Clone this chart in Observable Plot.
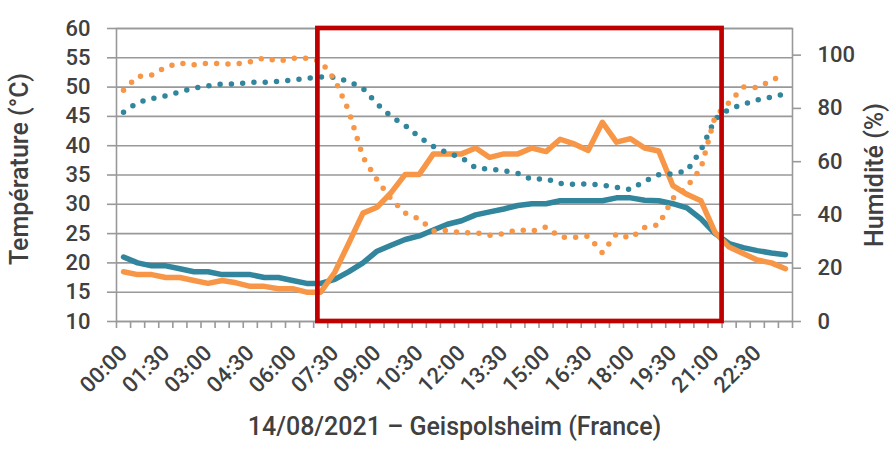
<!DOCTYPE html>
<html><head><meta charset="utf-8">
<script src="https://cdn.jsdelivr.net/npm/d3@7"></script>
<script src="https://cdn.jsdelivr.net/npm/@observablehq/plot@0.6"></script>
<style>body{margin:0;background:#fff;}</style>
</head><body><div id="chart"></div>
<script>
const times = ["00:00","00:30","01:00","01:30","02:00","02:30","03:00","03:30","04:00","04:30","05:00","05:30",
  "06:00","06:30","07:00","07:30","08:00","08:30","09:00","09:30","10:00","10:30","11:00","11:30",
  "12:00","12:30","13:00","13:30","14:00","14:30","15:00","15:30","16:00","16:30","17:00","17:30",
  "18:00","18:30","19:00","19:30","20:00","20:30","21:00","21:30","22:00","22:30","23:00","23:30"];
const tempTeal = [21,20,19.5,19.5,19,18.5,18.5,18,18,18,17.5,17.5,17,16.5,16.5,17.2,18.5,20,22,23,24,24.6,25.6,26.6,
  27.2,28.2,28.7,29.2,29.8,30.1,30.1,30.6,30.6,30.6,30.6,31.1,31.1,30.7,30.6,30.1,29.4,27.5,25,23.3,22.6,22.1,21.7,21.4];
const tempOrange = [18.5,18,18,17.5,17.5,17,16.5,17,16.6,16,16,15.6,15.6,15,15,18.4,23.4,28.5,29.5,32,35.1,35.1,38.6,38.6,
  38.6,39.6,38,38.6,38.6,39.6,39,41.1,40.3,39.2,44,40.6,41.2,39.6,39.1,33.2,31.7,30.6,25.2,22.7,21.6,20.5,20,19];
const humTeal = [78.6,82.2,83.7,84.7,86.2,87.6,88.5,89.2,89.2,89.8,89.8,90.1,90.7,91.3,91.8,91.7,90.1,87.5,81.7,77,73.6,69.2,65.7,63.3,
  61.5,57.7,57.2,56.6,55.6,53.3,53.6,51.8,51.5,51.7,51.2,50.4,49.5,52.7,55.1,55.5,56.5,64.3,76,79.7,81.5,83.2,84.2,85.5];
const humOrange = [86.8,92,92.5,95.5,97,96.4,97,96.7,96.7,97.5,99,97.7,98.8,98.8,97.7,90.8,79,61.7,53.2,46,40.7,38.5,34,34.2,
  33.2,33.4,32.4,33,34.5,33.9,35.5,31.6,31.6,32,25.8,32.9,31.3,35.3,36.3,46.2,50.5,57.5,77,82.2,88,87.8,90.5,93];
const tempTicks = [10,15,20,25,30,35,40,45,50,55,60];
const humTicks = [0,20,40,60,80,100];
const humMax = 110;
const xTickLabels = ["00:00","01:30","03:00","04:30","06:00","07:30","09:00","10:30","12:00","13:30","15:00","16:30","18:00","19:30","21:00","22:30"];
const highlight = [{from: 14.3, to: 43}]; // in half-hour slots
const titleX = "14/08/2021 – Geispolsheim (France)";
const titleYLeft = "Température (°C)";
const titleYRight = "Humidité (%)";

const teal = "#31859C", orange = "#F79646", red = "#C00000", gray = "#999999", textCol = "#404040";
const tMin = tempTicks[0], tMax = tempTicks[tempTicks.length - 1];
const h2y = h => tMin + h * (tMax - tMin) / humMax;
const y2h = y => (y - tMin) * humMax / (tMax - tMin);

const rows = times.map((t, i) => ({slot: i + 0.5, time: t, tT: tempTeal[i], tO: tempOrange[i], hT: h2y(humTeal[i]), hO: h2y(humOrange[i])}));
const bounds = times.map((t, i) => i).concat([times.length]);
const labelRows = xTickLabels.map(l => ({slot: times.indexOf(l) + 0.5, label: l}));
const rectRows = highlight.map(d => ({...d, low: tMin, high: tMax}));

const chart = Plot.plot({
  width: 890, height: 450,
  marginLeft: 116, marginRight: 98, marginTop: 28, marginBottom: 129,
  x: {type: "linear", domain: [0, times.length], axis: null},
  y: {domain: [tMin, tMax], axis: null},
  style: {fontFamily: "Roboto, 'Noto Sans', sans-serif", fontSize: "22px", fontWeight: 500, color: textCol, background: "white"},
  marks: [
    Plot.ruleY(tempTicks, {stroke: gray, strokeWidth: 1.6}),
    Plot.frame({stroke: gray, strokeWidth: 1.6}),
    Plot.axisX({ticks: bounds, tickSize: 7, tickFormat: () => "", label: null, stroke: gray, strokeWidth: 1.6}),
    Plot.axisY({anchor: "left", ticks: tempTicks, tickSize: 9, tickPadding: 17, label: null, stroke: gray, strokeWidth: 1.6, fill: textCol, fontSize: 22, fontWeight: 500}),
    Plot.axisY({anchor: "right", ticks: humTicks.map(h2y), tickFormat: d => Math.round(y2h(d)), tickSize: 8, tickPadding: 17, label: null, stroke: gray, strokeWidth: 1.6, fill: textCol, fontSize: 22, fontWeight: 500}),
    Plot.text(labelRows, {x: "slot", text: "label", frameAnchor: "bottom", rotate: -45, textAnchor: "end", lineAnchor: "middle", dy: 28, fill: textCol, fontSize: 22, fontWeight: 500}),
    Plot.line(rows, {x: "slot", y: "tT", stroke: teal, strokeWidth: 5.5, strokeLinejoin: "round", strokeLinecap: "round"}),
    Plot.line(rows, {x: "slot", y: "tO", stroke: orange, strokeWidth: 5.5, strokeLinejoin: "round", strokeLinecap: "round"}),
    Plot.line(rows, {x: "slot", y: "hT", stroke: teal, strokeWidth: 5.5, strokeDasharray: "0 11.3", strokeLinecap: "round"}),
    Plot.line(rows, {x: "slot", y: "hO", stroke: orange, strokeWidth: 5.5, strokeDasharray: "0 11.3", strokeLinecap: "round"}),
    Plot.rect(rectRows, {x1: "from", x2: "to", y1: "low", y2: "high", fill: "none", stroke: red, strokeWidth: 4.7, strokeLinejoin: "miter"}),
    Plot.text([titleYLeft], {frameAnchor: "left", rotate: -90, textAnchor: "middle", lineAnchor: "top", dx: -106, dy: -6, fill: textCol, fontSize: 25, fontWeight: 500}),
    Plot.text([titleYRight], {frameAnchor: "right", rotate: -90, textAnchor: "middle", lineAnchor: "top", dx: 73, fill: textCol, fontSize: 25, fontWeight: 500}),
    Plot.text([titleX], {frameAnchor: "bottom", textAnchor: "middle", lineAnchor: "middle", dy: 105, fill: textCol, fontSize: 25, fontWeight: 500})
  ]
});
document.getElementById("chart").appendChild(chart);
</script>
</body></html>
